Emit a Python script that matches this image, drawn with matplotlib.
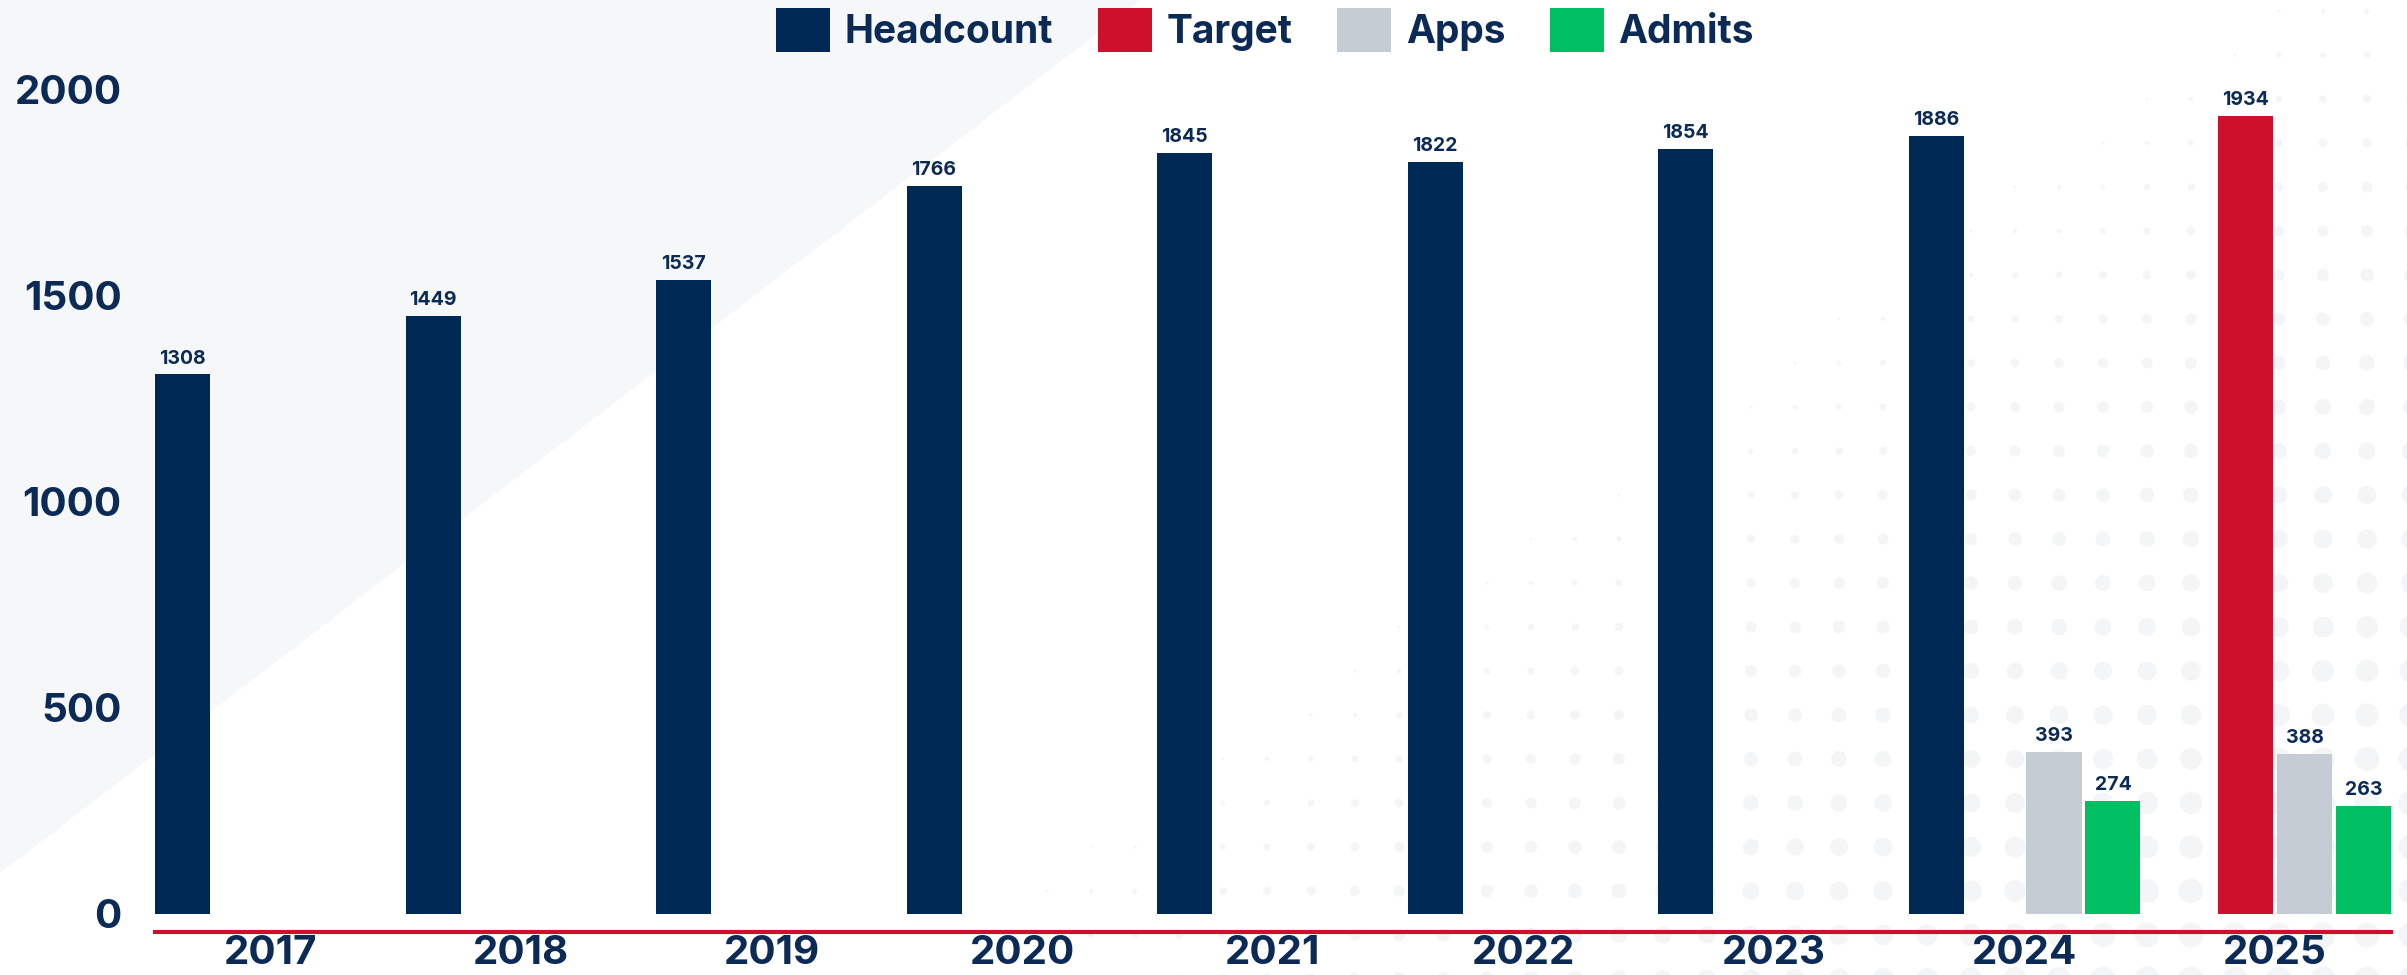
import numpy as np
import matplotlib
matplotlib.use("Agg")
import matplotlib.pyplot as plt
from matplotlib.patches import Polygon

plt.rcParams['font.family'] = ['Inter', 'DejaVu Sans']
plt.rcParams['font.weight'] = 'bold'

# data
years = ["2017", "2018", "2019", "2020", "2021", "2022", "2023", "2024", "2025"]
headcount = [1308, 1449, 1537, 1766, 1845, 1822, 1854, 1886, None]
target = [None, None, None, None, None, None, None, None, 1934]
apps = [None, None, None, None, None, None, None, 393, 388]
admits = [None, None, None, None, None, None, None, 274, 263]
yticks = [0, 500, 1000, 1500, 2000]

navy = "#002855"
red = "#ce102d"
grey = "#c5ccd4"
green = "#00bf63"
text_c = "#0b2a55"

W, H = 2407, 975
fig = plt.figure(figsize=(W / 100, H / 100), dpi=100, facecolor="white")

# decorative background: grey wedge top-left + faint halftone dots bottom-right
bg = fig.add_axes([0, 0, 1, 1], zorder=0)
bg.set_xlim(0, W)
bg.set_ylim(H, 0)
bg.axis("off")
bg.add_patch(Polygon([[0, 0], [1141, 0], [0, 873]], closed=True,
                     facecolor="#f6f7f9", edgecolor="none"))
gx, gy = np.meshgrid(np.arange(1927 - 44 * 30, W + 30, 44), np.arange(583 - 44 * 14, H + 30, 44))
gx, gy = gx.ravel(), gy.ravel()
t = (gx + 1.4 * gy - 2270) / 1200.0
keep = t > 0
t = np.clip(t[keep], 0, 1)
d = 2 + 23 * t ** 0.8
bg.scatter(gx[keep], gy[keep], s=(d * 0.72) ** 2, color="#f4f5f7", linewidths=0)

# main chart
ax = fig.add_axes([155 / W, 61 / H, 2236 / W, 866.25 / H], zorder=1)
ax.patch.set_alpha(0)

x = np.arange(len(years))
slot = 0.2355
bw = 0.2196
series = [("Headcount", headcount, navy), ("Target", target, red),
          ("Apps", apps, grey), ("Admits", admits, green)]
handles = []
for k, (name, vals, col) in enumerate(series):
    idx = [i for i, v in enumerate(vals) if v is not None]
    hs = [vals[i] for i in idx]
    bars = ax.bar(x[idx] + (k - 1.5) * slot, hs, width=bw, color=col, label=name, zorder=3)
    ax.bar_label(bars, labels=[str(v) for v in hs], padding=5, fontsize=14,
                 fontweight="bold", color=text_c)
    handles.append(bars)

ax.set_xlim(-1.5 * slot - bw / 2, 8 + 1.5 * slot + bw / 2)
ax.set_ylim(0, 2100)
ax.set_xticks(x)
ax.set_xticklabels(years)
ax.set_yticks(yticks)
ax.set_yticklabels([str(v) for v in yticks])
ax.tick_params(axis="both", length=0, labelsize=29, labelcolor=text_c)
ax.tick_params(axis="y", pad=24)
ax.tick_params(axis="x", pad=2)

for s in ["top", "right", "left"]:
    ax.spines[s].set_visible(False)
ax.spines["bottom"].set_position(("outward", 13))
ax.spines["bottom"].set_color(red)
ax.spines["bottom"].set_linewidth(3)

fig.legend(handles=handles, loc="upper center", bbox_to_anchor=(0.5256, 1.0),
           ncol=4, frameon=False, fontsize=28, handlelength=1.39, handleheight=1.36,
           handletextpad=0.37, columnspacing=1.15, borderaxespad=0.1, borderpad=0.1,
           labelcolor=text_c)

fig.savefig("out.png", dpi=100, facecolor="white")
